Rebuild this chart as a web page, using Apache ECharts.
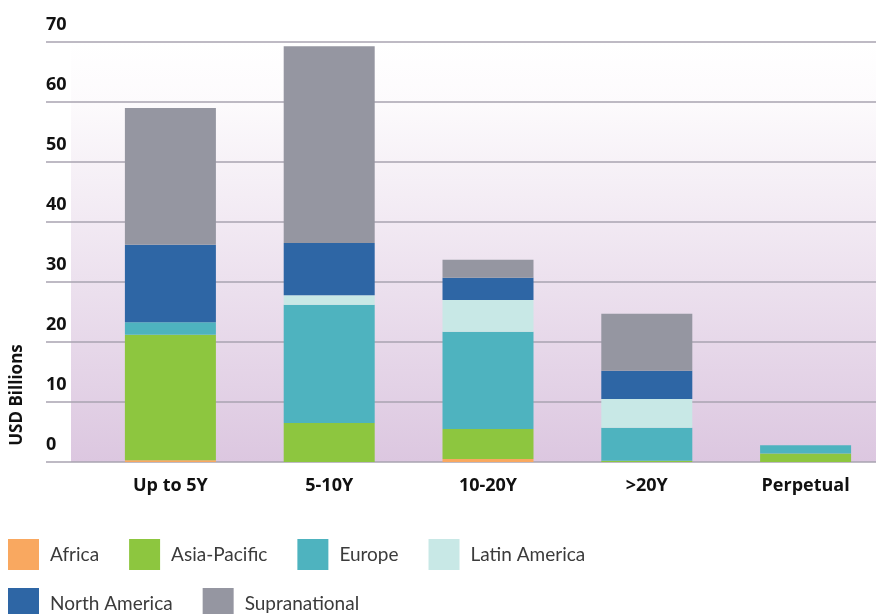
<!DOCTYPE html>
<html>
<head>
<meta charset="utf-8">
<script src="https://cdn.jsdelivr.net/npm/echarts@6/dist/echarts.min.js"></script>
<style>
  html, body { margin: 0; padding: 0; background: #fff; overflow: hidden; }
  #chart { width: 886px; height: 614px; }
</style>
</head>
<body>
<div id="chart"></div>
<script>
// maturity buckets
var categories = ["Up to 5Y", "5-10Y", "10-20Y", ">20Y", "Perpetual"];
var yTicks = [0, 10, 20, 30, 40, 50, 60, 70];

// USD billions by region (stack bottom -> top)
var africa = [0.3, 0, 0.5, 0, 0];
var asiaPacific = [20.9, 6.5, 5.0, 0.2, 1.4];
var europe = [2.1, 19.7, 16.2, 5.5, 1.4];
var latinAmerica = [0, 1.6, 5.3, 4.8, 0];
var northAmerica = [12.9, 8.7, 3.7, 4.7, 0];
var supranational = [22.8, 32.8, 3.0, 9.5, 0];

var seriesNames = ["Africa", "Asia-Pacific", "Europe", "Latin America", "North America", "Supranational"];
var seriesData = [africa, asiaPacific, europe, latinAmerica, northAmerica, supranational];
var colors = ["#F9A860", "#8DC63F", "#4EB3BF", "#C8E8E6", "#2E66A5", "#9596A1"];

var chart = echarts.init(document.getElementById("chart"));

var legendBase = {
  orient: "horizontal",
  icon: "rect",
  itemWidth: 31,
  itemHeight: 31,
  itemGap: 30,
  padding: 0,
  textStyle: {
    fontFamily: "Lato",
    fontSize: 19,
    color: "#3b3b3b",
    padding: [0, 0, 0, 6]
  }
};

var option = {
  animation: false,
  color: colors,
  textStyle: { fontFamily: "Open Sans" },
  graphic: [
    {
      type: "rect",
      z: -10,
      silent: true,
      shape: { x: 71, y: 42, width: 815, height: 420 },
      style: {
        fill: new echarts.graphic.LinearGradient(0, 0, 0, 1, [
          { offset: 0, color: "#ffffff" },
          { offset: 0.15, color: "#fcfafc" },
          { offset: 1, color: "#dcc7e0" }
        ])
      }
    },
    {
      type: "text",
      x: 17,
      y: 395,
      rotation: Math.PI / 2,
      style: {
        text: "USD Billions",
        fontFamily: "Open Sans",
        fontWeight: "bold",
        fontSize: 17,
        fill: "#111",
        align: "center",
        verticalAlign: "middle"
      }
    }
  ],
  legend: [
    Object.assign({}, legendBase, { left: 8, top: 539, data: seriesNames.slice(0, 4) }),
    Object.assign({}, legendBase, { left: 8, top: 588, data: seriesNames.slice(4) })
  ],
  grid: [
    { left: 46, right: 0, top: 42, height: 420 },
    { left: 91, width: 794, top: 42, height: 420 }
  ],
  xAxis: [
    { gridIndex: 0, type: "category", data: categories, show: false },
    {
      gridIndex: 1,
      type: "category",
      data: categories,
      axisLine: { show: false },
      axisTick: { show: false },
      axisLabel: {
        margin: 15,
        fontFamily: "Open Sans",
        fontWeight: "bold",
        fontSize: 18,
        color: "#111"
      }
    }
  ],
  yAxis: [
    {
      gridIndex: 0,
      type: "value",
      min: yTicks[0],
      max: yTicks[yTicks.length - 1],
      interval: 10,
      axisLine: { show: false },
      axisTick: { show: false },
      splitLine: { lineStyle: { color: "#a9a3b1", width: 1.5 } },
      axisLabel: {
        inside: true,
        margin: 0,
        align: "left",
        verticalAlign: "bottom",
        padding: [0, 0, 8, 0],
        fontFamily: "Open Sans",
        fontWeight: "bold",
        fontSize: 18,
        color: "#111"
      }
    },
    {
      gridIndex: 1,
      type: "value",
      min: yTicks[0],
      max: yTicks[yTicks.length - 1],
      interval: 10,
      show: false
    }
  ],
  series: seriesNames.map(function (name, i) {
    return {
      name: name,
      type: "bar",
      stack: "total",
      xAxisIndex: 1,
      yAxisIndex: 1,
      barWidth: 91,
      data: seriesData[i],
      itemStyle: { color: colors[i] }
    };
  })
};

chart.setOption(option);
</script>
</body>
</html>
